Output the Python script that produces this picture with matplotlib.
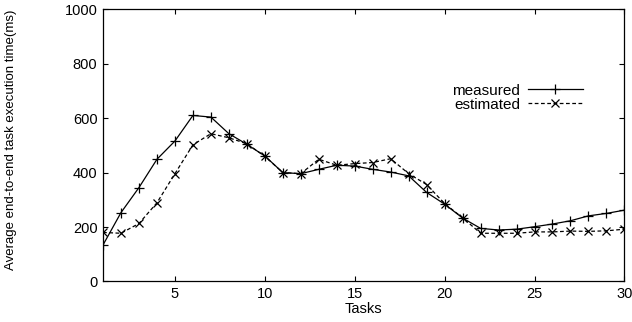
import matplotlib
matplotlib.use('Agg')
import matplotlib.pyplot as plt

tasks = list(range(1, 31))
measured = [134, 253, 345, 449, 516, 610, 604, 543, 504, 461,
            400, 396, 412, 427, 424, 412, 402, 388, 327, 284,
            233, 195, 189, 192, 201, 211, 223, 241, 250, 262]
estimated = [180, 177, 213, 289, 396, 502, 543, 528, 506, 460,
             400, 396, 449, 427, 433, 437, 451, 396, 356, 286,
             234, 177, 177, 177, 182, 182, 185, 184, 186, 192]
xticks = [5, 10, 15, 20, 25, 30]
yticks = [0, 200, 400, 600, 800, 1000]

plt.rcParams['font.family'] = ['Liberation Sans', 'DejaVu Sans']

fig = plt.figure(figsize=(6.32, 3.22), dpi=100)
ax = fig.add_axes([0.163, 0.126, 0.825, 0.845])

ax.plot(tasks, measured, color='black', linewidth=0.9, marker='+',
        markersize=7, markeredgewidth=0.9, label='measured')
ax.plot(tasks, estimated, color='black', linewidth=0.9, linestyle=(0, (3, 2)),
        marker='x', markersize=6, markeredgewidth=0.9, label='estimated')

ax.set_xlim(1, 30)
ax.set_ylim(0, 1000)
ax.set_xticks(xticks)
ax.set_yticks(yticks)
ax.tick_params(direction='in', top=True, right=True, length=3.5, width=0.8,
               labelsize=10.5, pad=4)
for s in ax.spines.values():
    s.set_linewidth(0.9)

ax.set_xlabel('Tasks', fontsize=10.5, labelpad=1)
ax.set_ylabel('Average end-to-end task execution time(ms)', fontsize=9.5)
ax.yaxis.set_label_coords(-0.165, 0.52)

ax.legend(loc='center right', bbox_to_anchor=(0.932, 0.675), frameon=False,
          markerfirst=False, fontsize=11, handlelength=3.6, handletextpad=0.5,
          labelspacing=0.0, borderaxespad=0)

fig.savefig('out.png', dpi=100)
